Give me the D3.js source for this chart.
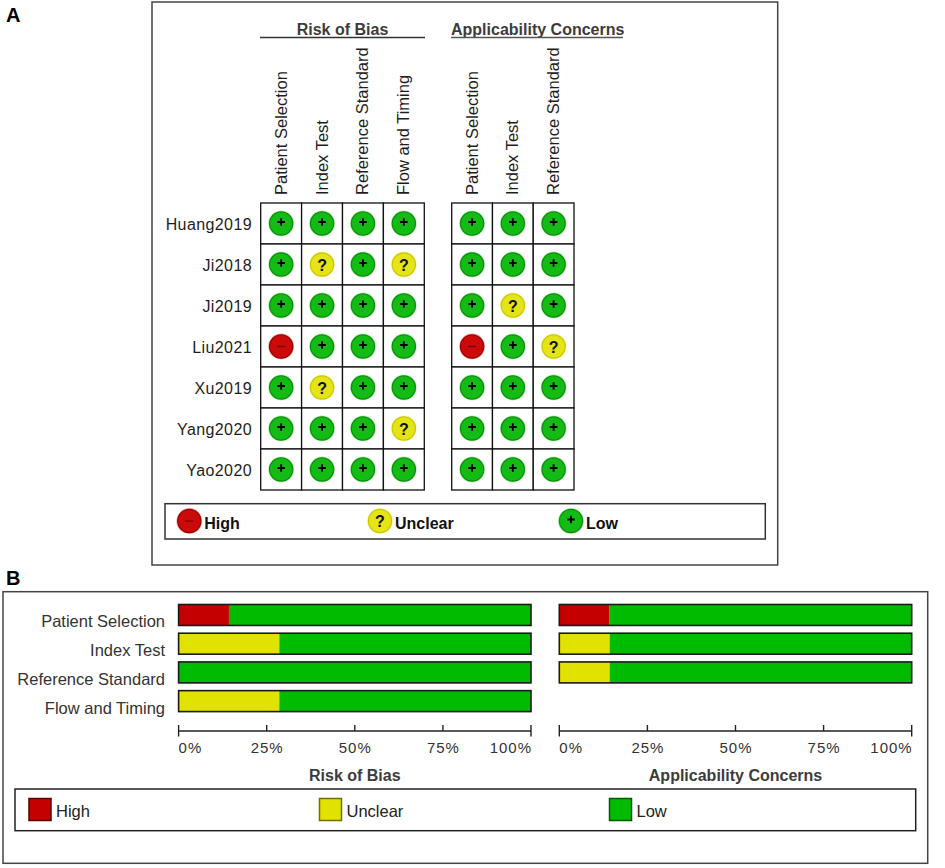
<!DOCTYPE html>
<html><head><meta charset="utf-8">
<script src="https://cdn.jsdelivr.net/npm/d3@7/dist/d3.min.js"></script>
<style>
html,body{margin:0;padding:0;background:#fff;}
svg{display:block;font-family:"Liberation Sans",Arial,Helvetica,sans-serif;}
</style></head><body>
<svg id="chart" width="945" height="868"></svg>
<script>
// ---------- data ----------
const studies = ["Huang2019","Ji2018","Ji2019","Liu2021","Xu2019","Yang2020","Yao2020"];
const robDomains = ["Patient Selection","Index Test","Reference Standard","Flow and Timing"];
const acDomains = ["Patient Selection","Index Test","Reference Standard"];
// judgements per study (rows) and domain (columns)
const robJudgements = [
  ["low","low","low","low"],
  ["low","unclear","low","unclear"],
  ["low","low","low","low"],
  ["high","low","low","low"],
  ["low","unclear","low","low"],
  ["low","low","low","unclear"],
  ["low","low","low","low"]
];
const acJudgements = [
  ["low","low","low"],
  ["low","low","low"],
  ["low","unclear","low"],
  ["high","low","unclear"],
  ["low","low","low"],
  ["low","low","low"],
  ["low","low","low"]
];
const levels = ["high","unclear","low"];
const levelLabels = ["High","Unclear","Low"];
const percentTicks = [0, 0.25, 0.5, 0.75, 1];

// ---------- styles ----------
const fillCol = {high:"#c40000", unclear:"#e2e200", low:"#00bb00"};
const circFill = {high:"#cc0a0a", unclear:"#e4e416", low:"#14bb14"};
const circEdge = {high:"#9a0000", unclear:"#c8c800", low:"#0a8f0a"};
const circHalo = {high:"#e06060", unclear:"#f0f070", low:"#70e070"};
const swEdge = {high:"#5a0000", unclear:"#707000", low:"#005a00"};

const svg = d3.select("#chart");

// ================= PANEL A =================
svg.append("text").attr("x",6).attr("y",21.5).attr("font-size",20).attr("font-weight","bold").attr("fill","#000").text("A");
svg.append("rect").attr("x",152).attr("y",2).attr("width",625.7).attr("height",563)
  .attr("fill","none").attr("stroke","#444").attr("stroke-width",1.5);

const yA = d3.scaleBand().domain(studies).range([203,490]);
const xRob = d3.scaleBand().domain(robDomains).range([260.7,424.3]);
const xAc = d3.scaleBand().domain(acDomains).range([451.7,574]);

// group headers
svg.append("text").attr("x",342.5).attr("y",35).attr("text-anchor","middle")
  .attr("font-size",16).attr("font-weight","bold").attr("fill","#3c3c3c").text("Risk of Bias");
svg.append("line").attr("x1",260).attr("x2",425).attr("y1",37.5).attr("y2",37.5).attr("stroke","#333").attr("stroke-width",1.3);
svg.append("text").attr("x",451).attr("y",35).attr("text-anchor","start")
  .attr("font-size",16).attr("font-weight","bold").attr("fill","#3c3c3c").text("Applicability Concerns");
svg.append("line").attr("x1",451).attr("x2",623).attr("y1",37.5).attr("y2",37.5).attr("stroke","#555").attr("stroke-width",1.3);

function drawSymbol(g, level, cx, cy, r){
  g.append("circle").attr("cx",cx).attr("cy",cy).attr("r",r+1.3).attr("fill",circHalo[level]).attr("opacity",0.55);
  g.append("circle").attr("cx",cx).attr("cy",cy).attr("r",r).attr("fill",circFill[level]).attr("stroke",circEdge[level]).attr("stroke-width",1.2);
  if(level==="low"){
    g.append("path").attr("d",`M${cx-3.8},${cy-1.5}H${cx+3.8}M${cx},${cy-5.3}V${cy+2.3}`).attr("stroke","#000").attr("stroke-width",1.9);
  } else if(level==="unclear"){
    g.append("text").attr("x",cx).attr("y",cy+6).attr("text-anchor","middle").attr("font-size",16).attr("font-weight","bold").attr("fill","#111").text("?");
  } else {
    g.append("path").attr("d",`M${cx-4},${cy}H${cx+4}`).attr("stroke","#7a0000").attr("stroke-width",1.4);
  }
}

function drawGrid(xs, domains, judg){
  const g = svg.append("g");
  domains.forEach(d=>{
    const cx = xs(d)+xs.bandwidth()/2+5.5;
    g.append("text").attr("transform",`translate(${cx},195) rotate(-90)`)
      .attr("font-size",16.5).attr("fill","#1e1e1e").text(d);
  });
  studies.forEach((s,i)=>{
    domains.forEach((d,j)=>{
      g.append("rect").attr("x",xs(d)).attr("y",yA(s)).attr("width",xs.bandwidth()).attr("height",yA.bandwidth())
        .attr("fill","#fff").attr("stroke","#111").attr("stroke-width",1.3);
    });
  });
  studies.forEach((s,i)=>{
    domains.forEach((d,j)=>{
      drawSymbol(g, judg[i][j], xs(d)+xs.bandwidth()/2, yA(s)+yA.bandwidth()/2, 11.6);
    });
  });
}
drawGrid(xRob, robDomains, robJudgements);
drawGrid(xAc, acDomains, acJudgements);

// row labels
studies.forEach(s=>{
  svg.append("text").attr("x",252).attr("y",yA(s)+yA.bandwidth()/2+6)
    .attr("text-anchor","end").attr("font-size",16).attr("letter-spacing",0.4).attr("fill","#1e1e1e").text(s);
});

// top legend
svg.append("rect").attr("x",165).attr("y",503.7).attr("width",600.3).attr("height",35.3)
  .attr("fill","#fff").attr("stroke","#333").attr("stroke-width",1.5);
const legA = [189.3, 380, 571];
levels.forEach((lv,i)=>{
  drawSymbol(svg, lv, legA[i], 521, 11.6);
  svg.append("text").attr("x",legA[i]+15).attr("y",529).attr("font-size",16).attr("font-weight","bold")
    .attr("fill","#111").text(levelLabels[i]);
});

// ================= PANEL B =================
svg.append("text").attr("x",6).attr("y",584.5).attr("font-size",20).attr("font-weight","bold").attr("fill","#000").text("B");
svg.append("rect").attr("x",3).attr("y",591.7).attr("width",924.7).attr("height",271.6)
  .attr("fill","none").attr("stroke","#444").attr("stroke-width",1.5);

const yB = d3.scaleBand().domain(robDomains).range([604.5,711.6]).paddingInner(0.27).paddingOuter(0);
const xB1 = d3.scaleLinear().domain([0,1]).range([178.6,531]);
const xB2 = d3.scaleLinear().domain([0,1]).range([559.3,911.7]);

function summary(domains, judg){
  return domains.map((d,j)=>{
    const n = judg.length;
    let acc = 0;
    return {domain:d, segs: levels.map(lv=>{
      const c = judg.filter(r=>r[j]===lv).length/n;
      const s = {level:lv, x0:acc, x1:acc+c}; acc += c; return s;
    })};
  });
}

function drawBars(xs, domains, judg, title){
  const g = svg.append("g");
  summary(domains, judg).forEach(row=>{
    const y0 = yB(row.domain), h = yB.bandwidth();
    row.segs.forEach(sg=>{
      if(sg.x1>sg.x0) g.append("rect").attr("x",xs(sg.x0)).attr("y",y0).attr("width",xs(sg.x1)-xs(sg.x0)).attr("height",h).attr("fill",fillCol[sg.level]);
    });
    g.append("rect").attr("x",xs(0)).attr("y",y0).attr("width",xs(1)-xs(0)).attr("height",h)
      .attr("fill","none").attr("stroke","#1a1a1a").attr("stroke-width",1.6);
  });
  const ay = 731;
  g.append("line").attr("x1",xs(0)).attr("x2",xs(1)).attr("y1",ay).attr("y2",ay).attr("stroke","#222").attr("stroke-width",1.4);
  percentTicks.forEach((t,i)=>{
    const end = (i===0||i===percentTicks.length-1);
    g.append("line").attr("x1",xs(t)).attr("x2",xs(t)).attr("y1",ay-6).attr("y2",end?ay+5.5:ay).attr("stroke","#222").attr("stroke-width",1.4);
    const anchor = i===0?"start":(i===percentTicks.length-1?"end":"middle");
    g.append("text").attr("x",xs(t)+(anchor==="end"?1:(anchor==="middle"?0.5:0))).attr("y",753).attr("text-anchor",anchor)
      .attr("font-size",15).attr("letter-spacing",1).attr("fill","#333").text(d3.format(".0%")(t));
  });
  g.append("text").attr("x",(xs(0)+xs(1))/2).attr("y",781).attr("text-anchor","middle")
    .attr("font-size",16).attr("font-weight","bold").attr("fill","#3c3c3c").text(title);
}
drawBars(xB1, robDomains, robJudgements, "Risk of Bias");
drawBars(xB2, acDomains, acJudgements, "Applicability Concerns");

robDomains.forEach(d=>{
  svg.append("text").attr("x",165).attr("y",yB(d)+yB.bandwidth()/2+12.5).attr("text-anchor","end")
    .attr("font-size",16.5).attr("fill","#333").text(d);
});

// bottom legend
svg.append("rect").attr("x",15).attr("y",789).attr("width",900.7).attr("height",41.7)
  .attr("fill","#fff").attr("stroke","#222").attr("stroke-width",1.5);
const legB = [29, 319.5, 609.5];
levels.forEach((lv,i)=>{
  svg.append("rect").attr("x",legB[i]).attr("y",798.5).attr("width",22).attr("height",22)
    .attr("fill",fillCol[lv]).attr("stroke",swEdge[lv]).attr("stroke-width",1.5);
  svg.append("text").attr("x",legB[i]+27).attr("y",817).attr("font-size",16.5).attr("fill","#222").text(levelLabels[i]);
});
</script>
</body></html>
